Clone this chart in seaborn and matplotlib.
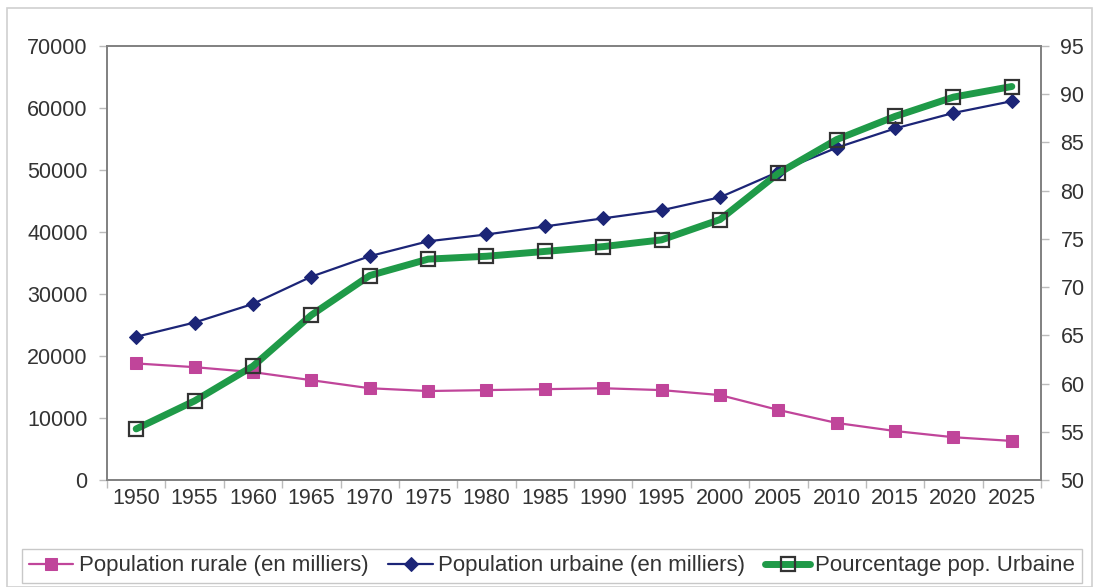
import numpy as np
import pandas as pd
import matplotlib
matplotlib.use("Agg")
import matplotlib.pyplot as plt
import seaborn as sns
from matplotlib.patches import Rectangle

years = [1950, 1955, 1960, 1965, 1970, 1975, 1980, 1985, 1990, 1995, 2000, 2005, 2010, 2015, 2020, 2025]
rurale = [18800, 18200, 17400, 16100, 14800, 14350, 14500, 14650, 14800, 14500, 13700, 11300, 9200, 7900, 6900, 6300]
urbaine = [23100, 25400, 28400, 32800, 36100, 38500, 39600, 40900, 42200, 43500, 45600, 49700, 53600, 56700, 59200, 61100]
pourcentage = [55.3, 58.2, 61.8, 67.1, 71.2, 72.9, 73.2, 73.7, 74.2, 74.9, 77.0, 81.8, 85.3, 87.7, 89.7, 90.8]

lab_rur = "Population rurale (en milliers)"
lab_urb = "Population urbaine (en milliers)"
lab_pct = "Pourcentage pop. Urbaine"

sns.set_style("white")
plt.rcParams['font.family'] = ['Liberation Sans', 'DejaVu Sans']

df = pd.DataFrame({"pos": np.arange(len(years)), "rurale": rurale,
                   "urbaine": urbaine, "pct": pourcentage})

fig = plt.figure(figsize=(10.99, 5.87), dpi=100)
ax = fig.add_axes([107/1099, 1-480/587, (1041-107)/1099, (480-46)/587])
ax2 = ax.twinx()

c_rur = "#C0459A"
c_urb = "#1C2577"
c_pct = "#1F9A48"

sns.lineplot(data=df, x="pos", y="rurale", ax=ax, color=c_rur, lw=1.6,
             marker="s", markersize=9, markeredgecolor=c_rur, label=lab_rur, legend=False)
sns.lineplot(data=df, x="pos", y="urbaine", ax=ax, color=c_urb, lw=1.6,
             marker="D", markersize=7, markeredgecolor=c_urb, label=lab_urb, legend=False)
sns.lineplot(data=df, x="pos", y="pct", ax=ax2, color=c_pct, lw=5,
             marker="s", markersize=9.5, markerfacecolor="none", markeredgecolor="#333333",
             markeredgewidth=1.6, label=lab_pct, legend=False)

ax.set_xlim(-0.5, len(years) - 0.5)
ax.set_ylim(0, 70000)
ax2.set_ylim(50, 95)
ax.set_yticks(np.arange(0, 70001, 10000))
ax2.set_yticks(np.arange(50, 96, 5))
ax.set_xticks(np.arange(len(years)))
ax.set_xticklabels([str(y) for y in years])
ax.set_xticks(np.arange(len(years) + 1) - 0.5, minor=True)
ax.set_xlabel("")
ax.set_ylabel("")
ax2.set_ylabel("")

gray = "#808080"
tc = "#333333"
fs = 15.5
for a in (ax, ax2):
    for s in a.spines.values():
        s.set_color(gray)
        s.set_linewidth(1.2)
ax.tick_params(axis="y", which="major", direction="out", length=6, width=1, color="#bbbbbb",
               labelsize=fs, labelcolor=tc, pad=8, left=True)
ax2.tick_params(axis="y", which="major", direction="out", length=6, width=1, color="#bbbbbb",
                labelsize=fs, labelcolor=tc, pad=8, right=True)
ax.tick_params(axis="x", which="major", length=0, labelsize=fs, labelcolor=tc, pad=6)
ax.tick_params(axis="x", which="minor", direction="out", length=6, width=1, color="#bbbbbb", bottom=True)
ax.grid(False)
ax2.grid(False)

h1, l1 = ax.get_legend_handles_labels()
h2, l2 = ax2.get_legend_handles_labels()
leg = fig.legend(h1 + h2, l1 + l2, loc="center", bbox_to_anchor=(552/1099, 1-566/587),
                 ncol=3, fontsize=16, frameon=True, fancybox=False, edgecolor="#bbbbbb",
                 handlelength=2.0, columnspacing=0.9, handletextpad=0.25, borderpad=0.3,
                 borderaxespad=0)
leg.get_frame().set_linewidth(1.0)
for t in leg.get_texts():
    t.set_color(tc)

fig.patches.append(Rectangle((7/1099, 0), (1092-7)/1099, 1-8/587, transform=fig.transFigure,
                             fill=False, edgecolor="#d0d0d0", lw=1.2))

fig.savefig("out.png", dpi=100)
